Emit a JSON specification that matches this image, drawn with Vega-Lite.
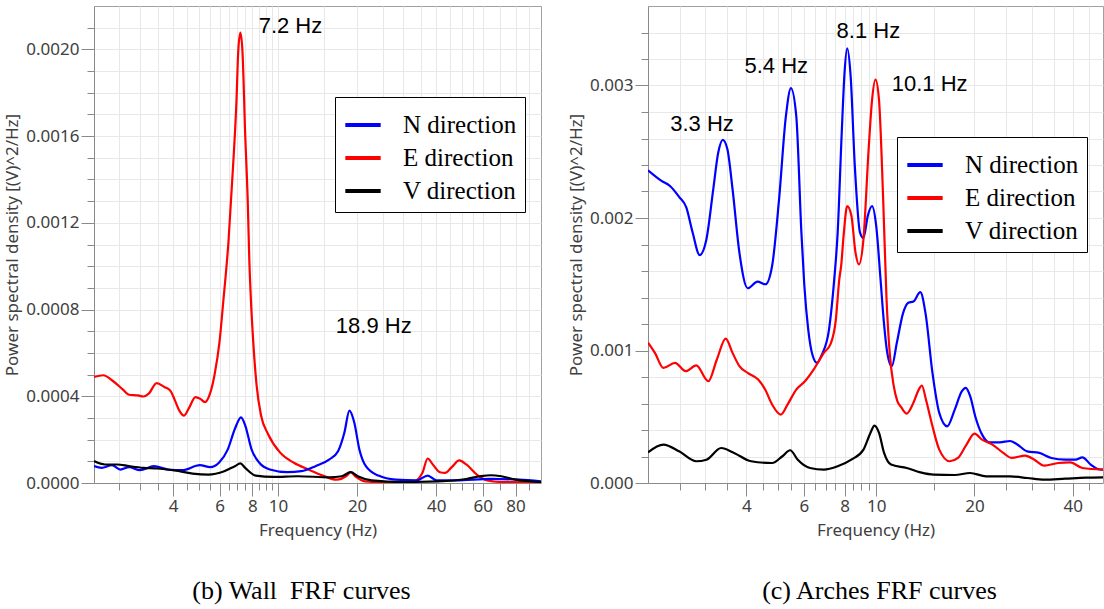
{
  "$schema": "https://vega.github.io/schema/vega-lite/v6.json",
  "padding": {"left": 3, "top": 5, "right": 0, "bottom": 0},
  "background": "white",
  "spacing": 25,
  "config": {
    "view": {"stroke": "#a0a0a0", "strokeWidth": 1},
    "axis": {
      "labelFont": "Noto Sans", "labelFontSize": 17, "labelColor": "#404040",
      "titleFont": "Noto Sans", "titleFontSize": 17, "titleFontWeight": "normal", "titleColor": "#404040",
      "domainColor": "#8a8a8a", "tickColor": "#8a8a8a", "gridColor": "#e8e8e8", "gridWidth": 1,
      "labelOverlap": false, "labelFlush": false, "labelPadding": 2
    },
    "title": {"font": "Liberation Serif", "fontSize": 26, "fontWeight": "normal", "color": "black"}
  },
  "datasets": {
    "wall": [
      {"dir":"E direction","f":2.0,"psd":0.000489},{"dir":"E direction","f":2.17,"psd":0.000497},{"dir":"E direction","f":2.34,"psd":0.000474},{"dir":"E direction","f":2.57,"psd":0.000432},{"dir":"E direction","f":2.72,"psd":0.000407},{"dir":"E direction","f":2.94,"psd":0.000404},{"dir":"E direction","f":3.08,"psd":0.000399},{"dir":"E direction","f":3.23,"psd":0.000412},{"dir":"E direction","f":3.46,"psd":0.000461},{"dir":"E direction","f":3.7,"psd":0.000443},{"dir":"E direction","f":3.91,"psd":0.000424},{"dir":"E direction","f":4.06,"psd":0.000381},{"dir":"E direction","f":4.22,"psd":0.000334},{"dir":"E direction","f":4.4,"psd":0.000311},{"dir":"E direction","f":4.59,"psd":0.000345},{"dir":"E direction","f":4.86,"psd":0.000396},{"dir":"E direction","f":5.07,"psd":0.000388},{"dir":"E direction","f":5.28,"psd":0.000373},{"dir":"E direction","f":5.52,"psd":0.000412},{"dir":"E direction","f":5.74,"psd":0.000497},{"dir":"E direction","f":6.0,"psd":0.000652},{"dir":"E direction","f":6.2,"psd":0.000837},{"dir":"E direction","f":6.49,"psd":0.001115},{"dir":"E direction","f":6.75,"psd":0.001455},{"dir":"E direction","f":6.96,"psd":0.001764},{"dir":"E direction","f":7.07,"psd":0.001995},{"dir":"E direction","f":7.2,"psd":0.002077},{"dir":"E direction","f":7.33,"psd":0.001995},{"dir":"E direction","f":7.51,"psd":0.00161},{"dir":"E direction","f":7.68,"psd":0.0013},{"dir":"E direction","f":7.79,"psd":0.00102},{"dir":"E direction","f":7.9,"psd":0.00084},{"dir":"E direction","f":8.05,"psd":0.00066},{"dir":"E direction","f":8.3,"psd":0.00045},{"dir":"E direction","f":8.63,"psd":0.000311},{"dir":"E direction","f":9.18,"psd":0.000225},{"dir":"E direction","f":10.2,"psd":0.00014},{"dir":"E direction","f":11.5,"psd":0.0000932},{"dir":"E direction","f":13.06,"psd":0.0000621},{"dir":"E direction","f":14.8,"psd":0.0000342},{"dir":"E direction","f":16.7,"psd":0.0000155},{"dir":"E direction","f":18.3,"psd":0.0000342},{"dir":"E direction","f":18.9,"psd":0.0000497},{"dir":"E direction","f":19.8,"psd":0.000028},{"dir":"E direction","f":21.4,"psd":0.0000078},{"dir":"E direction","f":25.7,"psd":0.000003},{"dir":"E direction","f":32.8,"psd":0.0000078},{"dir":"E direction","f":35.4,"psd":0.0000466},{"dir":"E direction","f":37.1,"psd":0.000113},{"dir":"E direction","f":38.8,"psd":0.0000854},{"dir":"E direction","f":41.3,"psd":0.0000497},{"dir":"E direction","f":43.2,"psd":0.0000466},{"dir":"E direction","f":45.9,"psd":0.0000746},{"dir":"E direction","f":48.9,"psd":0.000104},{"dir":"E direction","f":52,"psd":0.0000854},{"dir":"E direction","f":57,"psd":0.0000388},{"dir":"E direction","f":62.5,"psd":0.0000124},{"dir":"E direction","f":70.7,"psd":0.0000047},{"dir":"E direction","f":100,"psd":0.000003},
      {"dir":"N direction","f":2.0,"psd":0.0000777},{"dir":"N direction","f":2.14,"psd":0.0000699},{"dir":"N direction","f":2.34,"psd":0.0000823},{"dir":"N direction","f":2.52,"psd":0.0000621},{"dir":"N direction","f":2.72,"psd":0.000073},{"dir":"N direction","f":2.99,"psd":0.000059},{"dir":"N direction","f":3.38,"psd":0.0000777},{"dir":"N direction","f":3.83,"psd":0.0000621},{"dir":"N direction","f":4.33,"psd":0.000059},{"dir":"N direction","f":5.05,"psd":0.0000823},{"dir":"N direction","f":5.53,"psd":0.000073},{"dir":"N direction","f":5.97,"psd":0.0000932},{"dir":"N direction","f":6.45,"psd":0.000155},{"dir":"N direction","f":6.86,"psd":0.000249},{"dir":"N direction","f":7.24,"psd":0.000303},{"dir":"N direction","f":7.52,"psd":0.000264},{"dir":"N direction","f":7.94,"psd":0.000155},{"dir":"N direction","f":8.5,"psd":0.0000932},{"dir":"N direction","f":9.32,"psd":0.0000621},{"dir":"N direction","f":10.86,"psd":0.0000497},{"dir":"N direction","f":12.28,"psd":0.0000544},{"dir":"N direction","f":13.9,"psd":0.0000777},{"dir":"N direction","f":15.7,"psd":0.000109},{"dir":"N direction","f":16.95,"psd":0.000148},{"dir":"N direction","f":17.9,"psd":0.000233},{"dir":"N direction","f":18.7,"psd":0.000334},{"dir":"N direction","f":19.5,"psd":0.00028},{"dir":"N direction","f":20.4,"psd":0.000155},{"dir":"N direction","f":21.6,"psd":0.0000777},{"dir":"N direction","f":24.1,"psd":0.0000342},{"dir":"N direction","f":28.1,"psd":0.0000155},{"dir":"N direction","f":33.8,"psd":0.0000124},{"dir":"N direction","f":37.1,"psd":0.0000342},{"dir":"N direction","f":40,"psd":0.0000124},{"dir":"N direction","f":47.4,"psd":0.0000124},{"dir":"N direction","f":64.4,"psd":0.0000186},{"dir":"N direction","f":82.4,"psd":0.0000155},{"dir":"N direction","f":100,"psd":0.0000078},
      {"dir":"V direction","f":2.0,"psd":0.000101},{"dir":"V direction","f":2.2,"psd":0.0000854},{"dir":"V direction","f":2.45,"psd":0.0000854},{"dir":"V direction","f":2.72,"psd":0.0000777},{"dir":"V direction","f":3.08,"psd":0.0000699},{"dir":"V direction","f":3.48,"psd":0.0000668},{"dir":"V direction","f":4.06,"psd":0.0000575},{"dir":"V direction","f":4.74,"psd":0.0000435},{"dir":"V direction","f":5.44,"psd":0.0000388},{"dir":"V direction","f":6.25,"psd":0.0000544},{"dir":"V direction","f":6.86,"psd":0.0000777},{"dir":"V direction","f":7.2,"psd":0.0000901},{"dir":"V direction","f":7.51,"psd":0.0000699},{"dir":"V direction","f":8.24,"psd":0.0000342},{"dir":"V direction","f":9.62,"psd":0.000028},{"dir":"V direction","f":11.9,"psd":0.0000311},{"dir":"V direction","f":15.7,"psd":0.0000264},{"dir":"V direction","f":17.5,"psd":0.0000311},{"dir":"V direction","f":18.9,"psd":0.0000497},{"dir":"V direction","f":20.1,"psd":0.0000311},{"dir":"V direction","f":22.7,"psd":0.0000124},{"dir":"V direction","f":29.9,"psd":0.0000047},{"dir":"V direction","f":40.6,"psd":0.0000078},{"dir":"V direction","f":52,"psd":0.0000186},{"dir":"V direction","f":58.8,"psd":0.0000311},{"dir":"V direction","f":64.4,"psd":0.0000357},{"dir":"V direction","f":70.7,"psd":0.0000311},{"dir":"V direction","f":80,"psd":0.0000155},{"dir":"V direction","f":100,"psd":0.0000047}
    ],
    "arches": [
      {"dir":"N direction","f":2.0,"psd":0.00236},{"dir":"N direction","f":2.2,"psd":0.00228},{"dir":"N direction","f":2.34,"psd":0.00224},{"dir":"N direction","f":2.49,"psd":0.00216},{"dir":"N direction","f":2.62,"psd":0.00208},{"dir":"N direction","f":2.74,"psd":0.00189},{"dir":"N direction","f":2.88,"psd":0.00172},{"dir":"N direction","f":3.02,"psd":0.00184},{"dir":"N direction","f":3.17,"psd":0.00222},{"dir":"N direction","f":3.28,"psd":0.00249},{"dir":"N direction","f":3.39,"psd":0.00259},{"dir":"N direction","f":3.5,"psd":0.00252},{"dir":"N direction","f":3.63,"psd":0.00222},{"dir":"N direction","f":3.81,"psd":0.00174},{"dir":"N direction","f":4.04,"psd":0.00147},{"dir":"N direction","f":4.33,"psd":0.00152},{"dir":"N direction","f":4.58,"psd":0.0015},{"dir":"N direction","f":4.8,"psd":0.00164},{"dir":"N direction","f":5.04,"psd":0.00214},{"dir":"N direction","f":5.29,"psd":0.00277},{"dir":"N direction","f":5.48,"psd":0.00298},{"dir":"N direction","f":5.69,"psd":0.00277},{"dir":"N direction","f":5.9,"psd":0.00189},{"dir":"N direction","f":6.02,"psd":0.0015},{"dir":"N direction","f":6.19,"psd":0.00116},{"dir":"N direction","f":6.39,"psd":0.00096},{"dir":"N direction","f":6.58,"psd":0.000907},{"dir":"N direction","f":6.82,"psd":0.00097},{"dir":"N direction","f":7.17,"psd":0.00116},{"dir":"N direction","f":7.44,"psd":0.00154},{"dir":"N direction","f":7.62,"psd":0.00189},{"dir":"N direction","f":7.84,"psd":0.00264},{"dir":"N direction","f":8.0,"psd":0.0031},{"dir":"N direction","f":8.15,"psd":0.00328},{"dir":"N direction","f":8.35,"psd":0.00307},{"dir":"N direction","f":8.6,"psd":0.00239},{"dir":"N direction","f":8.92,"psd":0.00189},{"dir":"N direction","f":9.14,"psd":0.00185},{"dir":"N direction","f":9.43,"psd":0.00202},{"dir":"N direction","f":9.71,"psd":0.00209},{"dir":"N direction","f":10.0,"psd":0.00194},{"dir":"N direction","f":10.3,"psd":0.00155},{"dir":"N direction","f":10.55,"psd":0.00122},{"dir":"N direction","f":10.8,"psd":0.00099},{"dir":"N direction","f":11.16,"psd":0.00088},{"dir":"N direction","f":11.57,"psd":0.00106},{"dir":"N direction","f":12.08,"psd":0.00128},{"dir":"N direction","f":12.54,"psd":0.00136},{"dir":"N direction","f":13.0,"psd":0.00137},{"dir":"N direction","f":13.65,"psd":0.00144},{"dir":"N direction","f":14.16,"psd":0.00128},{"dir":"N direction","f":14.87,"psd":0.000831},{"dir":"N direction","f":15.6,"psd":0.000529},{"dir":"N direction","f":16.5,"psd":0.000428},{"dir":"N direction","f":17.4,"psd":0.000554},{"dir":"N direction","f":18.3,"psd":0.000693},{"dir":"N direction","f":18.8,"psd":0.000718},{"dir":"N direction","f":19.4,"psd":0.000655},{"dir":"N direction","f":20.1,"psd":0.000504},{"dir":"N direction","f":21.1,"psd":0.000365},{"dir":"N direction","f":22.2,"psd":0.000307},{"dir":"N direction","f":23.9,"psd":0.000307},{"dir":"N direction","f":25.7,"psd":0.000317},{"dir":"N direction","f":26.9,"psd":0.000295},{"dir":"N direction","f":29,"psd":0.000239},{"dir":"N direction","f":31.6,"psd":0.000227},{"dir":"N direction","f":34.4,"psd":0.000189},{"dir":"N direction","f":37.9,"psd":0.000176},{"dir":"N direction","f":40.8,"psd":0.000176},{"dir":"N direction","f":42.8,"psd":0.000194},{"dir":"N direction","f":45.4,"psd":0.000139},{"dir":"N direction","f":47.7,"psd":0.000106},{"dir":"N direction","f":50,"psd":0.0001},
      {"dir":"E direction","f":2.0,"psd":0.00106},{"dir":"E direction","f":2.1,"psd":0.000982},{"dir":"E direction","f":2.23,"psd":0.000869},{"dir":"E direction","f":2.42,"psd":0.000907},{"dir":"E direction","f":2.61,"psd":0.000844},{"dir":"E direction","f":2.81,"psd":0.000887},{"dir":"E direction","f":3.06,"psd":0.000768},{"dir":"E direction","f":3.25,"psd":0.000932},{"dir":"E direction","f":3.46,"psd":0.00109},{"dir":"E direction","f":3.63,"psd":0.000982},{"dir":"E direction","f":3.81,"psd":0.000882},{"dir":"E direction","f":4.04,"psd":0.000831},{"dir":"E direction","f":4.35,"psd":0.000781},{"dir":"E direction","f":4.57,"psd":0.000705},{"dir":"E direction","f":4.8,"psd":0.000592},{"dir":"E direction","f":5.1,"psd":0.000516},{"dir":"E direction","f":5.35,"psd":0.000592},{"dir":"E direction","f":5.69,"psd":0.000705},{"dir":"E direction","f":6.05,"psd":0.000768},{"dir":"E direction","f":6.43,"psd":0.000856},{"dir":"E direction","f":6.91,"psd":0.000982},{"dir":"E direction","f":7.25,"psd":0.00105},{"dir":"E direction","f":7.52,"psd":0.00123},{"dir":"E direction","f":7.71,"psd":0.00154},{"dir":"E direction","f":7.81,"psd":0.00164},{"dir":"E direction","f":7.96,"psd":0.00189},{"dir":"E direction","f":8.15,"psd":0.00209},{"dir":"E direction","f":8.39,"psd":0.00202},{"dir":"E direction","f":8.64,"psd":0.00174},{"dir":"E direction","f":8.85,"psd":0.00165},{"dir":"E direction","f":9.14,"psd":0.00184},{"dir":"E direction","f":9.48,"psd":0.00252},{"dir":"E direction","f":9.71,"psd":0.00289},{"dir":"E direction","f":9.95,"psd":0.003045},{"dir":"E direction","f":10.2,"psd":0.00289},{"dir":"E direction","f":10.5,"psd":0.00215},{"dir":"E direction","f":10.75,"psd":0.0014},{"dir":"E direction","f":11.0,"psd":0.00098},{"dir":"E direction","f":11.3,"psd":0.00074},{"dir":"E direction","f":11.6,"psd":0.00062},{"dir":"E direction","f":11.94,"psd":0.00057},{"dir":"E direction","f":12.4,"psd":0.000524},{"dir":"E direction","f":13.0,"psd":0.000605},{"dir":"E direction","f":13.5,"psd":0.000705},{"dir":"E direction","f":13.8,"psd":0.000736},{"dir":"E direction","f":14.2,"psd":0.00063},{"dir":"E direction","f":14.87,"psd":0.000428},{"dir":"E direction","f":15.6,"psd":0.000252},{"dir":"E direction","f":16.8,"psd":0.000164},{"dir":"E direction","f":17.8,"psd":0.000189},{"dir":"E direction","f":18.9,"psd":0.00029},{"dir":"E direction","f":20.0,"psd":0.000373},{"dir":"E direction","f":21.1,"psd":0.000327},{"dir":"E direction","f":22.7,"psd":0.00029},{"dir":"E direction","f":24.5,"psd":0.000227},{"dir":"E direction","f":26,"psd":0.000189},{"dir":"E direction","f":28.6,"psd":0.000207},{"dir":"E direction","f":30.5,"psd":0.000176},{"dir":"E direction","f":32.7,"psd":0.000131},{"dir":"E direction","f":36.1,"psd":0.000151},{"dir":"E direction","f":39.3,"psd":0.000156},{"dir":"E direction","f":42.8,"psd":0.000113},{"dir":"E direction","f":50,"psd":0.0001},
      {"dir":"V direction","f":2.0,"psd":0.000232},{"dir":"V direction","f":2.23,"psd":0.00029},{"dir":"V direction","f":2.49,"psd":0.000239},{"dir":"V direction","f":2.81,"psd":0.000164},{"dir":"V direction","f":3.02,"psd":0.000176},{"dir":"V direction","f":3.35,"psd":0.000264},{"dir":"V direction","f":3.67,"psd":0.000227},{"dir":"V direction","f":4.14,"psd":0.000164},{"dir":"V direction","f":4.8,"psd":0.000151},{"dir":"V direction","f":5.16,"psd":0.000202},{"dir":"V direction","f":5.45,"psd":0.000247},{"dir":"V direction","f":5.75,"psd":0.000176},{"dir":"V direction","f":6.27,"psd":0.000113},{"dir":"V direction","f":6.91,"psd":0.000101},{"dir":"V direction","f":7.62,"psd":0.000126},{"dir":"V direction","f":8.39,"psd":0.000176},{"dir":"V direction","f":9.14,"psd":0.000252},{"dir":"V direction","f":9.6,"psd":0.000378},{"dir":"V direction","f":9.88,"psd":0.000433},{"dir":"V direction","f":10.2,"psd":0.000378},{"dir":"V direction","f":10.57,"psd":0.000227},{"dir":"V direction","f":11.1,"psd":0.000139},{"dir":"V direction","f":12.4,"psd":0.000113},{"dir":"V direction","f":13.65,"psd":0.0000806},{"dir":"V direction","f":15,"psd":0.000063},{"dir":"V direction","f":17.4,"psd":0.0000605},{"dir":"V direction","f":19.4,"psd":0.0000756},{"dir":"V direction","f":21.7,"psd":0.0000504},{"dir":"V direction","f":25.7,"psd":0.0000504},{"dir":"V direction","f":29,"psd":0.0000378},{"dir":"V direction","f":32.7,"psd":0.0000252},{"dir":"V direction","f":37.9,"psd":0.0000327},{"dir":"V direction","f":43.9,"psd":0.0000403},{"dir":"V direction","f":50,"psd":0.0000428}
    ],
    "wallNotes": [
      {"label":"7.2 Hz","f":8.45,"psd":0.00211},
      {"label":"18.9 Hz","f":16.6,"psd":0.000722}
    ],
    "archNotes": [
      {"label":"3.3 Hz","f":2.34,"psd":0.002707},
      {"label":"5.4 Hz","f":3.95,"psd":0.00315},
      {"label":"8.1 Hz","f":7.56,"psd":0.003409},
      {"label":"10.1 Hz","f":11.16,"psd":0.003008}
    ]
  },
  "resolve": {"scale": {"color": "independent", "x": "independent", "y": "independent"}, "legend": {"color": "independent"}},
  "hconcat": [
    {
      "width": 447,
      "height": 477,
      "title": {"text": "(b) Wall \u00a0FRF curves", "orient": "bottom", "frame": "group", "dx": -16, "offset": 40},
      "resolve": {"axis": {"y": "independent"}},
      "layer": [
        {
          "data": {"name": "wall"},
          "mark": {"type": "line", "interpolate": "monotone", "strokeWidth": 2.2, "clip": true},
          "encoding": {
            "x": {"field": "f", "type": "quantitative", "scale": {"type": "log", "domain": [2, 100], "nice": false},
              "axis": {"title": "Frequency (Hz)", "grid": true, "titlePadding": 8,
                "values": [2.5,3,3.5,4,4.5,5,5.5,6,6.5,7,7.5,8,8.5,9,9.5,10,15,20,25,30,35,40,45,50,55,60,70,80,90],
                "format": "~g",
                "labelExpr": "indexof([4,6,8,10,20,40,60,80], datum.value) >= 0 ? datum.label : ''",
                "tickSize": {"condition": {"test": "indexof([4,6,8,10,20,40,60,80], datum.value) >= 0", "value": 13}, "value": 7}}},
            "y": {"field": "psd", "type": "quantitative", "scale": {"domain": [0, 0.0022], "nice": false},
              "axis": {"orient": "left", "title": "Power spectral density [(V)^2/Hz]", "grid": true, "titlePadding": 4, "format": ".4f",
                "values": [0,0.0004,0.0008,0.0012,0.0016,0.002], "tickSize": 13}},
            "color": {"field": "dir", "type": "nominal",
              "scale": {"domain": ["N direction", "E direction", "V direction"], "range": ["#0000ff", "#ff0000", "#000000"]},
              "legend": {"orient": "none", "legendX": 241, "legendY": 91, "title": null,
                "labelFont": "Liberation Serif", "labelFontSize": 25, "labelColor": "black", "labelLimit": 400,
                "symbolType": "stroke", "symbolStrokeWidth": 4, "symbolSize": 1250, "labelOffset": 20,
                "rowPadding": 0, "padding": 8, "strokeColor": "black", "fillColor": "white"}}
          }
        },
        {
          "data": {"name": "wallNotes"},
          "mark": {"type": "text", "align": "left", "baseline": "middle", "font": "Liberation Sans", "fontSize": 22, "color": "black"},
          "encoding": {
            "x": {"field": "f", "type": "quantitative"},
            "y": {"field": "psd", "type": "quantitative",
              "axis": {"orient": "left", "title": null, "labels": false, "domain": false, "grid": true, "tickSize": 7,
                "values": [0.0001,0.0002,0.0003,0.0005,0.0006,0.0007,0.0009,0.001,0.0011,0.0013,0.0014,0.0015,0.0017,0.0018,0.0019,0.0021]}},
            "text": {"field": "label"}
          }
        }
      ]
    },
    {
      "width": 455,
      "height": 477,
      "title": {"text": "(c) Arches FRF curves", "orient": "bottom", "frame": "group", "dx": 4, "offset": 40},
      "resolve": {"axis": {"y": "independent"}},
      "layer": [
        {
          "data": {"name": "arches"},
          "mark": {"type": "line", "interpolate": "monotone", "strokeWidth": 2.2, "clip": true},
          "encoding": {
            "x": {"field": "f", "type": "quantitative", "scale": {"type": "log", "domain": [2, 49.5], "nice": false},
              "axis": {"title": "Frequency (Hz)", "grid": true, "titlePadding": 8,
                "values": [2.5,3,3.5,4,4.5,5,5.5,6,6.5,7,7.5,8,8.5,9,9.5,10,15,20,25,30,35,40,45],
                "format": "~g",
                "labelExpr": "indexof([4,6,8,10,20,40], datum.value) >= 0 ? datum.label : ''",
                "tickSize": {"condition": {"test": "indexof([4,6,8,10,20,40], datum.value) >= 0", "value": 13}, "value": 7}}},
            "y": {"field": "psd", "type": "quantitative", "scale": {"domain": [0, 0.0036], "nice": false},
              "axis": {"orient": "left", "title": "Power spectral density [(V)^2/Hz]", "grid": true, "titlePadding": 4, "format": ".3f",
                "values": [0,0.001,0.002,0.003], "tickSize": 13}},
            "color": {"field": "dir", "type": "nominal",
              "scale": {"domain": ["N direction", "E direction", "V direction"], "range": ["#0000ff", "#ff0000", "#000000"]},
              "legend": {"orient": "none", "legendX": 249, "legendY": 131, "title": null,
                "labelFont": "Liberation Serif", "labelFontSize": 25, "labelColor": "black", "labelLimit": 400,
                "symbolType": "stroke", "symbolStrokeWidth": 4, "symbolSize": 1250, "labelOffset": 20,
                "rowPadding": 0, "padding": 8, "strokeColor": "black", "fillColor": "white"}}
          }
        },
        {
          "data": {"name": "archNotes"},
          "mark": {"type": "text", "align": "left", "baseline": "middle", "font": "Liberation Sans", "fontSize": 22, "color": "black"},
          "encoding": {
            "x": {"field": "f", "type": "quantitative"},
            "y": {"field": "psd", "type": "quantitative",
              "axis": {"orient": "left", "title": null, "labels": false, "domain": false, "grid": true, "tickSize": 7,
                "values": [0.0002,0.0004,0.0006,0.0008,0.0012,0.0014,0.0016,0.0018,0.0022,0.0024,0.0026,0.0028,0.0032,0.0034]}},
            "text": {"field": "label"}
          }
        }
      ]
    }
  ]
}
